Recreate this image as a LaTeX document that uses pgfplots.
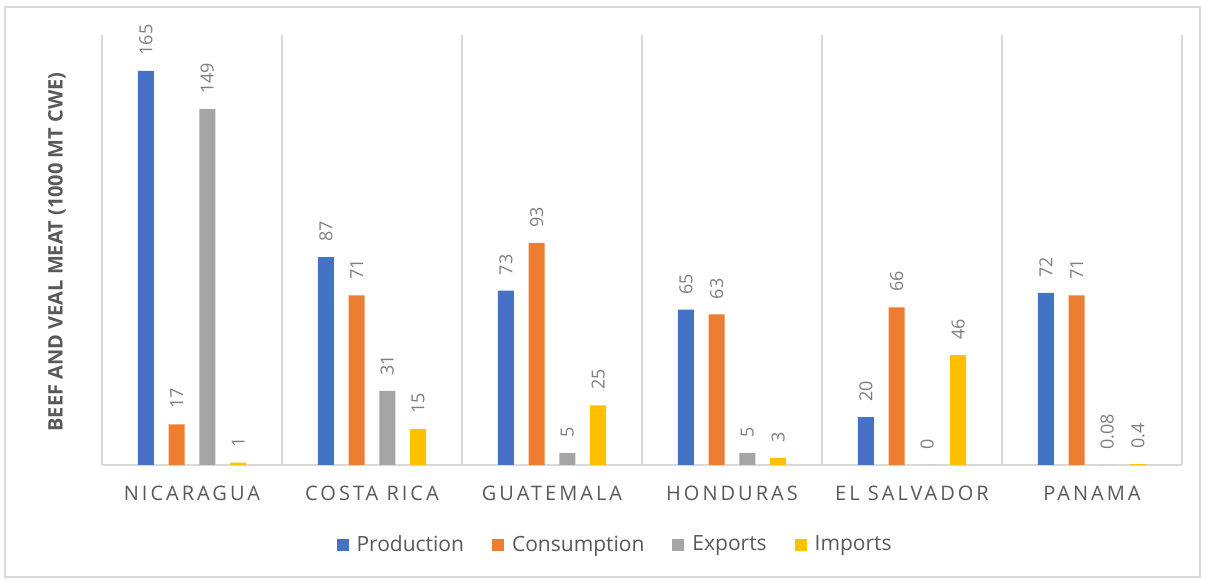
\documentclass[border=0pt]{standalone}
\usepackage{pgfplots}
\pgfplotsset{compat=1.18}
\usepackage{fontspec}
\setmainfont{Open Sans}
\definecolor{cBlue}{HTML}{4472C4}
\definecolor{cOrange}{HTML}{ED7D31}
\definecolor{cGray}{HTML}{A5A5A5}
\definecolor{cGold}{HTML}{FFC000}
\definecolor{textGray}{HTML}{595959}
\definecolor{labGray}{HTML}{7F7F7F}
\definecolor{gridGray}{HTML}{D9D9D9}
\begin{document}
\begin{tikzpicture}[x=1pt,y=1pt]
\useasboundingbox (-51,-58) rectangle (552.5,232.5);
\draw[draw=gridGray, line width=0.75pt] (-48.5,-56) rectangle (549,229);
\begin{axis}[
  at={(0,0)}, anchor=south west,
  width=540pt, height=215pt, scale only axis,
  ybar, ymin=0, ymax=180, xmin=-0.5, xmax=5.5,
  axis y line=none, axis x line*=bottom,
  x axis line style={draw=gridGray, line width=0.75pt, -},
  xtick={0,...,5},
  xticklabels={NICARAGUA,COSTA RICA,GUATEMALA,HONDURAS,EL SALVADOR,PANAMA},
  xticklabel style={font=\fontsize{10}{12}\selectfont\addfontfeature{LetterSpace=15}, text=textGray, anchor=north, yshift=-6pt, inner sep=0pt},
  xtick style={draw=none},
  extra x ticks={-0.5,0.5,1.5,2.5,3.5,4.5,5.5},
  extra x tick labels={},
  extra x tick style={grid=major, major grid style={draw=gridGray, line width=0.75pt}, tick style={draw=none}},
  bar width=0.089,
  point meta=explicit symbolic,
  nodes near coords={\pgfplotspointmeta},
  nodes near coords style={rotate=90, anchor=west, inner xsep=7.5pt, inner ysep=0pt, font=\fontsize{9}{10}\selectfont, text=labGray},
  legend style={at={(0.476,-0.186)}, anchor=center, legend columns=4, draw=none, fill=none,
    font=\fontsize{10.5}{12}\selectfont, text=textGray,
    /tikz/every odd column/.append style={column sep=2pt},
    /tikz/every even column/.append style={column sep=12pt}},
  legend image code/.code={\fill[#1] (0pt,-3pt) rectangle (6pt,3pt);},
]
\addplot[draw=none, fill=cBlue, bar shift=-0.256] coordinates {(0,165)[165] (1,87)[87] (2,73)[73] (3,65)[65] (4,20)[20] (5,72)[72]};
\addplot[draw=none, fill=cOrange, bar shift=-0.085] coordinates {(0,17)[17] (1,71)[71] (2,93)[93] (3,63)[63] (4,66)[66] (5,71)[71]};
\addplot[draw=none, fill=cGray, bar shift=0.085] coordinates {(0,149)[149] (1,31)[31] (2,5)[5] (3,5)[5] (4,0)[0] (5,0.08)[0.08]};
\addplot[draw=none, fill=cGold, bar shift=0.256] coordinates {(0,1)[1] (1,15)[15] (2,25)[25] (3,3)[3] (4,46)[46] (5,0.4)[0.4]};
\legend{Production,Consumption,Exports,Imports}
\end{axis}
\node[rotate=90, font=\bfseries\fontsize{10}{12}\selectfont, text=textGray] at (-22.5,106.5) {BEEF AND VEAL MEAT (1000 MT CWE)};
\end{tikzpicture}
\end{document}
